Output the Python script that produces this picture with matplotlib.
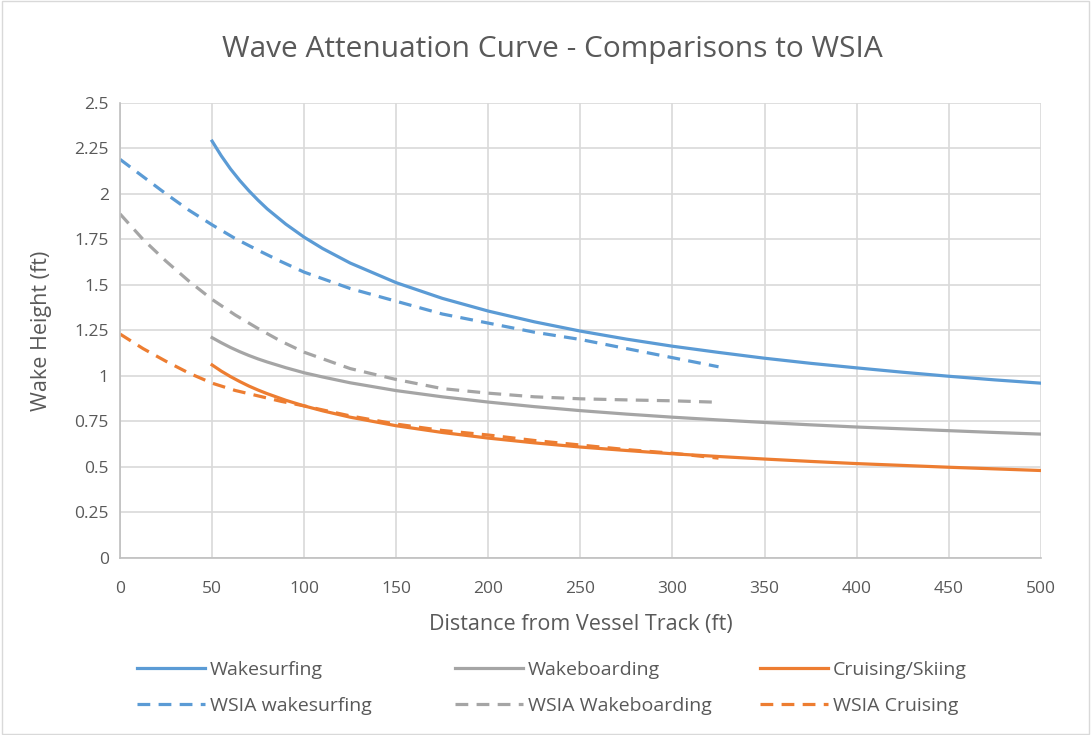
import matplotlib.pyplot as plt

# Distancias (ft) e alturas de onda (ft)
dist_model = [50, 55, 60, 65, 70, 75, 80, 90, 100, 110, 125, 150, 175, 200, 225, 250,
              275, 300, 325, 350, 375, 400, 425, 450, 475, 500]
wakesurfing = [2.29, 2.209, 2.137, 2.074, 2.017, 1.965, 1.917, 1.834, 1.762, 1.70,
               1.62, 1.512, 1.426, 1.356, 1.297, 1.246, 1.202, 1.163, 1.129, 1.097,
               1.069, 1.044, 1.02, 0.998, 0.978, 0.96]
wakeboarding = [1.21, 1.182, 1.156, 1.133, 1.112, 1.093, 1.076, 1.045, 1.017, 0.994,
                0.962, 0.919, 0.885, 0.856, 0.831, 0.809, 0.79, 0.773, 0.758, 0.744,
                0.731, 0.719, 0.709, 0.699, 0.689, 0.68]
cruising = [1.06, 1.026, 0.996, 0.969, 0.944, 0.922, 0.902, 0.866, 0.835, 0.808,
            0.773, 0.726, 0.689, 0.658, 0.632, 0.609, 0.59, 0.572, 0.557, 0.543,
            0.53, 0.518, 0.508, 0.498, 0.489, 0.48]

dist_wsia = [0, 12.5, 25, 37.5, 50, 62.5, 75, 87.5, 100, 125, 150, 175, 200, 225,
             250, 275, 300, 325]
wsia_wakesurfing = [2.19, 2.095, 2.0, 1.91, 1.83, 1.755, 1.69, 1.628, 1.57, 1.48,
                    1.41, 1.34, 1.29, 1.24, 1.2, 1.15, 1.1, 1.05]
wsia_wakeboarding = [1.89, 1.75, 1.63, 1.52, 1.42, 1.335, 1.26, 1.19, 1.13, 1.04,
                     0.98, 0.93, 0.905, 0.885, 0.874, 0.868, 0.863, 0.855]
wsia_cruising = [1.23, 1.15, 1.08, 1.015, 0.96, 0.92, 0.89, 0.86, 0.835, 0.78,
                 0.735, 0.70, 0.675, 0.645, 0.62, 0.595, 0.575, 0.548]

x_ticks = list(range(0, 501, 50))
y_ticks = [0, 0.25, 0.5, 0.75, 1, 1.25, 1.5, 1.75, 2, 2.25, 2.5]
y_labels = ["0", "0.25", "0.5", "0.75", "1", "1.25", "1.5", "1.75", "2", "2.25", "2.5"]

BLUE = "#5B9BD5"
GRAY = "#A5A5A5"
ORANGE = "#ED7D31"
TXT = "#595959"

plt.rcParams['font.family'] = ['Open Sans', 'DejaVu Sans']

fig = plt.figure(figsize=(10.91, 7.35), dpi=100)
ax = fig.add_axes([0.110, 0.241, 0.844, 0.619])

lw = 2.3
dash = (4, 2.6)
l1, = ax.plot(dist_model, wakesurfing, color=BLUE, lw=lw, label="Wakesurfing")
l2, = ax.plot(dist_model, wakeboarding, color=GRAY, lw=lw, label="Wakeboarding")
l3, = ax.plot(dist_model, cruising, color=ORANGE, lw=lw, label="Cruising/Skiing")
l4, = ax.plot(dist_wsia, wsia_wakesurfing, color=BLUE, lw=lw, dashes=dash,
              label="WSIA wakesurfing")
l5, = ax.plot(dist_wsia, wsia_wakeboarding, color=GRAY, lw=lw, dashes=dash,
              label="WSIA Wakeboarding")
l6, = ax.plot(dist_wsia, wsia_cruising, color=ORANGE, lw=lw, dashes=dash,
              label="WSIA Cruising")

ax.set_xlim(0, 500)
ax.set_ylim(0, 2.5)
ax.set_xticks(x_ticks)
ax.set_yticks(y_ticks)
ax.set_yticklabels(y_labels)
ax.tick_params(length=0, labelsize=12.5, colors=TXT)
ax.tick_params(axis="x", pad=17)
ax.tick_params(axis="y", pad=8)
ax.grid(True, color="#D9D9D9", lw=1.2)
ax.set_axisbelow(True)
for s in ["top", "right"]:
    ax.spines[s].set_visible(False)
for s in ["left", "bottom"]:
    ax.spines[s].set_color("#BFBFBF")
    ax.spines[s].set_linewidth(1.2)

ax.set_xlabel("Distance from Vessel Track (ft)", fontsize=15.5, color=TXT, labelpad=12)
ax.set_ylabel("Wake Height (ft)", fontsize=15.5, color=TXT, labelpad=16)
fig.text(0.506, 0.932, "Wave Attenuation Curve - Comparisons to WSIA",
         ha="center", va="center", fontsize=21.5, color=TXT)

# legenda em três colunas com largura fixa (como no Excel)
col_x = [0.1256, 0.417, 0.6966]
pairs = [(l1, l4), (l2, l5), (l3, l6)]
for x0, (a, b) in zip(col_x, pairs):
    leg = fig.legend([a, b], [a.get_label(), b.get_label()], loc="center left",
                     bbox_to_anchor=(x0, 0.064), frameon=False, fontsize=14,
                     handlelength=3.5, handletextpad=0.25, labelspacing=0.9,
                     borderpad=0, borderaxespad=0)
    for t in leg.get_texts():
        t.set_color(TXT)

# borda da área do gráfico
fig.patches.append(plt.Rectangle((0.002, 0.002), 0.996, 0.996, transform=fig.transFigure,
                                 fill=False, edgecolor="#D9D9D9", lw=1))

fig.savefig("out.png", dpi=100)
